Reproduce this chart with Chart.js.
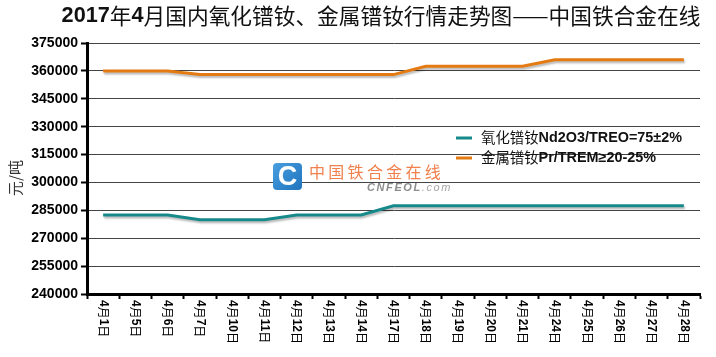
<!DOCTYPE html>
<html><head><meta charset="utf-8">
<script src="https://cdn.jsdelivr.net/npm/chart.js@4.4.0/dist/chart.umd.min.js"></script>
<style>html,body{margin:0;padding:0;background:#fff;}#wrap{width:716px;height:357px;}</style>
</head><body><div id="wrap"><canvas id="c" width="716" height="357"></canvas></div>
<script>
const categories = ["4月1日","4月5日","4月6日","4月7日","4月10日","4月11日","4月12日","4月13日","4月14日","4月17日","4月18日","4月19日","4月20日","4月21日","4月24日","4月25日","4月26日","4月27日","4月28日"];
const ndOxide = [282500,282500,282500,280000,280000,280000,282500,282500,282500,287500,287500,287500,287500,287500,287500,287500,287500,287500,287500];
const prMetal = [360000,360000,360000,358000,358000,358000,358000,358000,358000,358000,362500,362500,362500,362500,366000,366000,366000,366000,366000];
const seriesNames = ["氧化镨钕Nd2O3/TREO=75±2%","金属镨钕Pr/TREM≥20-25%"];
const seriesColors = ["#17898a","#e37b12"];
const yMin = 240000, yMax = 375000, yStep = 15000;
const titleText = "2017年4月国内氧化镨钕、金属镨钕行情走势图——中国铁合金在线";
const yTitle = "元/吨";

const LAT = '"Liberation Sans", Arial, sans-serif';
const CJK = '"Noto Sans CJK SC", sans-serif';

function splitRuns(str){
  return str.match(/[\u2014\u3000-\u9fff\uff00-\uffef]+|[^\u2014\u3000-\u9fff\uff00-\uffef]+/g) || [];
}
function isCJK(s){ return /[\u2014\u3000-\u9fff\uff00-\uffef]/.test(s); }
function runFont(s, size, cjkWeight){
  return isCJK(s) ? (cjkWeight||'normal') + ' ' + size + 'px ' + CJK : 'bold ' + size + 'px ' + LAT;
}
function measureRuns(ctx, str, size, cjkWeight){
  let w = 0;
  for (const r of splitRuns(str)) { ctx.font = runFont(r, size, cjkWeight); w += ctx.measureText(r).width; }
  return w;
}
function drawRuns(ctx, str, x, y, size, color, cjkWeight){
  ctx.fillStyle = color; ctx.textAlign = 'left'; ctx.textBaseline = 'middle';
  let cx = x;
  for (const r of splitRuns(str)) {
    ctx.font = runFont(r, size, cjkWeight);
    ctx.fillText(r, cx, y);
    cx += ctx.measureText(r).width;
  }
  return cx - x;
}

const shadowPlugin = {
  id: 'shadow',
  beforeDatasetDraw(chart){ const c = chart.ctx; c.save(); c.shadowColor = 'rgba(0,0,0,0.28)'; c.shadowBlur = 2; c.shadowOffsetX = 1; c.shadowOffsetY = 2; },
  afterDatasetDraw(chart){ chart.ctx.restore(); }
};

const decorPlugin = {
  id: 'decor',
  beforeDatasetsDraw(chart){
    const ctx = chart.ctx;
    ctx.save();
    const bx = 273, by = 163, bw = 29, bh = 27, r = 4;
    const g = ctx.createLinearGradient(bx, by, bx + bw, by + bh);
    g.addColorStop(0, '#4a9fe0'); g.addColorStop(1, '#1f74bd');
    ctx.fillStyle = g;
    ctx.beginPath();
    ctx.moveTo(bx + r, by); ctx.lineTo(bx + bw - r, by); ctx.quadraticCurveTo(bx + bw, by, bx + bw, by + r);
    ctx.lineTo(bx + bw, by + bh - r); ctx.quadraticCurveTo(bx + bw, by + bh, bx + bw - r, by + bh);
    ctx.lineTo(bx + r, by + bh); ctx.quadraticCurveTo(bx, by + bh, bx, by + bh - r);
    ctx.lineTo(bx, by + r); ctx.quadraticCurveTo(bx, by, bx + r, by);
    ctx.fill();
    ctx.fillStyle = '#fff'; ctx.font = 'bold 27px ' + LAT; ctx.textAlign = 'center'; ctx.textBaseline = 'middle';
    ctx.fillText('C', bx + bw / 2, by + bh / 2 + 1);
    const wm = '中国铁合金在线';
    ctx.fillStyle = '#f0804c'; ctx.font = '16px ' + CJK; ctx.textAlign = 'left';
    for (let i = 0; i < wm.length; i++) ctx.fillText(wm[i], 309 + i * 19.3, 172);
    ctx.font = 'italic bold 11px ' + LAT; ctx.fillStyle = '#8c8c8c';
    let cx = 367;
    for (const ch of 'CNFEOL') { ctx.fillText(ch, cx, 188); cx += ctx.measureText(ch).width + 1.6; }
    ctx.font = 'italic 11px ' + LAT; ctx.fillStyle = '#a8a8a8';
    for (const ch of '.com') { ctx.fillText(ch, cx, 188); cx += ctx.measureText(ch).width + 1.6; }
    ctx.restore();
  },
  afterDraw(chart){
    const ctx = chart.ctx;
    ctx.save();
    const tw = measureRuns(ctx, titleText, 21.7);
    drawRuns(ctx, titleText, 381 - tw / 2, 16, 21.7, '#111');
    ctx.save();
    ctx.translate(15, 178); ctx.rotate(-Math.PI / 2);
    ctx.font = '15px ' + CJK; ctx.fillStyle = '#333'; ctx.textAlign = 'center'; ctx.textBaseline = 'middle';
    ctx.fillText(yTitle, 0, 0);
    ctx.restore();
    const xs = chart.scales.x;
    categories.forEach((lab, i) => {
      const x = xs.getPixelForValue(i);
      ctx.save();
      ctx.translate(x, 300); ctx.rotate(Math.PI / 2);
      drawRuns(ctx, lab, 0, 0, 12, '#000');
      ctx.restore();
    });
    const rows = [138, 158];
    chart.data.datasets.forEach((ds, i) => {
      const y = rows[i];
      ctx.strokeStyle = ds.borderColor; ctx.lineWidth = 3; ctx.lineCap = 'butt';
      ctx.beginPath(); ctx.moveTo(456, y); ctx.lineTo(472, y); ctx.stroke();
      drawRuns(ctx, ds.label, 481, y, 14.4, '#111');
    });
    ctx.restore();
  }
};

new Chart(document.getElementById('c'), {
  type: 'line',
  data: {
    labels: categories,
    datasets: [
      { label: seriesNames[0], data: ndOxide, borderColor: seriesColors[0], backgroundColor: seriesColors[0], borderWidth: 3, pointRadius: 0, tension: 0, fill: false },
      { label: seriesNames[1], data: prMetal, borderColor: seriesColors[1], backgroundColor: seriesColors[1], borderWidth: 3, pointRadius: 0, tension: 0, fill: false }
    ]
  },
  options: {
    responsive: false, animation: false, devicePixelRatio: 1,
    layout: { padding: { top: 43, right: 16, left: 0, bottom: 0 } },
    plugins: { legend: { display: false }, title: { display: false }, tooltip: { enabled: false } },
    scales: {
      x: {
        offset: true,
        grid: { offset: true, drawOnChartArea: false, drawTicks: true, tickLength: 5, tickWidth: 2, tickColor: '#000' },
        border: { display: true, color: '#000', width: 3 },
        ticks: { display: false },
        afterFit(s){ s.height = 63; }
      },
      y: {
        min: yMin, max: yMax,
        ticks: { stepSize: yStep, color: '#000', font: { family: LAT, size: 14, weight: 'bold' }, padding: 3, callback: v => String(v) },
        grid: { color: '#444', lineWidth: 1, drawTicks: true, tickLength: 6, tickWidth: 2, tickColor: '#000' },
        border: { display: true, color: '#000', width: 3 },
        afterFit(s){ s.width = 87; }
      }
    }
  },
  plugins: [shadowPlugin, decorPlugin]
});
</script></body></html>
